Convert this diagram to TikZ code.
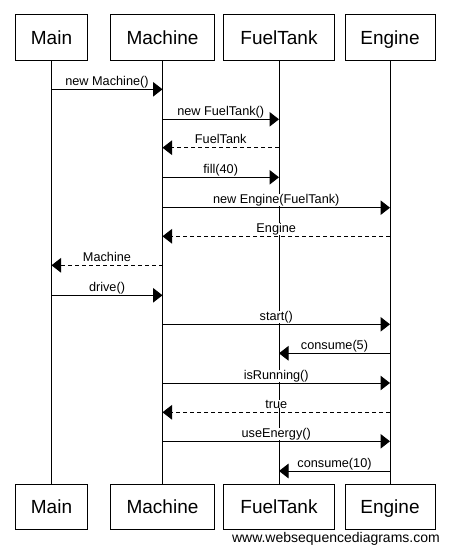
\documentclass[tikz,border=0pt]{standalone}
\usepackage{fontspec}
\setmainfont{Liberation Sans}
\usetikzlibrary{arrows.meta}
\tikzset{
  actor/.style={draw, line width=1pt, inner sep=0pt, minimum height=46pt, text height=14pt, text depth=0pt, font=\fontsize{19}{22}\selectfont},
  life/.style={line width=1pt},
  call/.style={line width=1pt, -{Triangle[length=9.5pt,width=14.5pt]}},
  ret/.style={line width=1pt, dash pattern=on 4pt off 3pt, -{Triangle[length=9.5pt,width=14.5pt]}},
  lbl/.style={fill=white, inner xsep=1pt, inner ysep=0pt, anchor=base, font=\fontsize{12.7}{14}\selectfont},
}
\newcommand{\msgline}[5]{%
  \path (#1 |- 0,#3) -- (#2 |- 0,#3) node[midway, lbl, yshift=4pt] {#4};
  \draw[#5] (#1 |- 0,#3) -- (#2 |- 0,#3);}
\begin{document}
\begin{tikzpicture}[x=1pt, y=-1pt]
\useasboundingbox[fill=white] (0,0) rectangle (450,553);
% top actors
\node[actor, minimum width=72pt] (mainT) at (51.5,38) {Main};
\node[actor, minimum width=104pt] (machT) at (162.5,38) {Machine};
\node[actor, minimum width=111pt] (fuelT) at (279,38) {FuelTank};
\node[actor, minimum width=90pt] (engT) at (390,38) {Engine};
% bottom actors
\node[actor, minimum width=72pt, minimum height=45pt] (mainB) at (51.5,506.8) {Main};
\node[actor, minimum width=104pt, minimum height=45pt] (machB) at (162.5,506.8) {Machine};
\node[actor, minimum width=111pt, minimum height=45pt] (fuelB) at (279,506.8) {FuelTank};
\node[actor, minimum width=90pt, minimum height=45pt] (engB) at (390,506.8) {Engine};
% lifelines
\draw[life] (mainT) -- (mainB);
\draw[life] (machT) -- (machB);
\draw[life] (fuelT) -- (fuelB);
\draw[life] (engT) -- (engB);
% messages
\msgline{mainT}{machT}{89.3}{new Machine()}{call}
\msgline{machT}{fuelT}{119.3}{new FuelTank()}{call}
\msgline{fuelT}{machT}{147.7}{FuelTank}{ret}
\msgline{machT}{fuelT}{177.3}{fill(40)}{call}
\msgline{machT}{engT}{207.7}{new Engine(FuelTank)}{call}
\msgline{engT}{machT}{236.3}{Engine}{ret}
\msgline{machT}{mainT}{265.3}{Machine}{ret}
\msgline{mainT}{machT}{295.3}{drive()}{call}
\msgline{machT}{engT}{324.3}{start()}{call}
\msgline{engT}{fuelT}{353.3}{consume(5)}{call}
\msgline{machT}{engT}{383}{isRunning()}{call}
\msgline{engT}{machT}{412.3}{true}{ret}
\msgline{machT}{engT}{441.3}{useEnergy()}{call}
\msgline{engT}{fuelT}{471}{consume(10)}{call}
% footer
\node[anchor=base east, inner sep=0pt, font=\fontsize{14}{16}\selectfont] (footer) at (440,542.5) {www.websequencediagrams.com};
\end{tikzpicture}
\end{document}
